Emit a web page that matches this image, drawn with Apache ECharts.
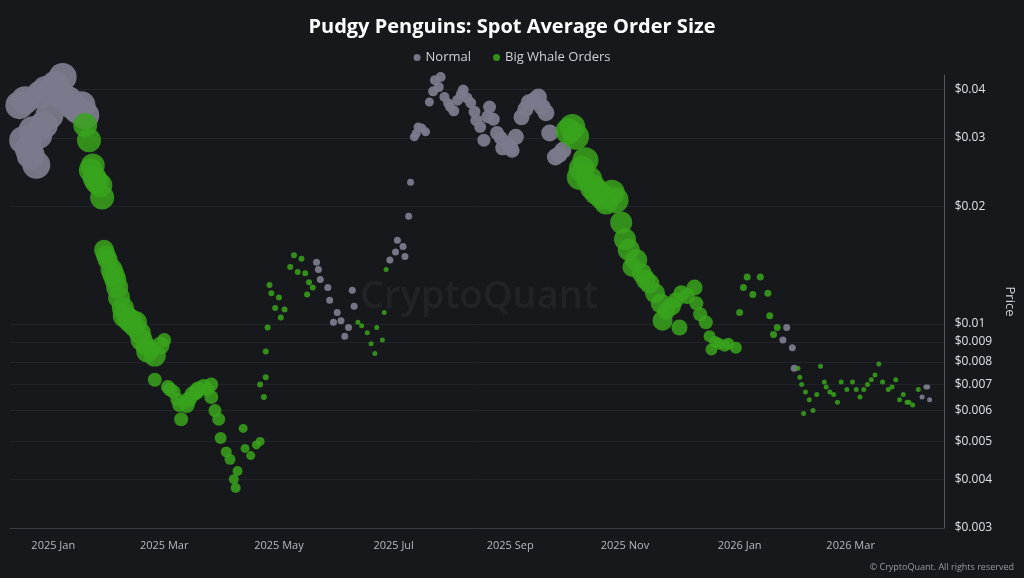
<!DOCTYPE html>
<html><head><meta charset="utf-8">
<script src="https://cdn.jsdelivr.net/npm/echarts@6/dist/echarts.min.js"></script>
<style>html,body{margin:0;padding:0;background:#fff}#c{width:1024px;height:578px}</style>
</head><body><div id="c"></div>
<script>
// Normal (gray) points: date, price, bubble size
const normalDates = ['2024-12-14','2024-12-17','2024-12-16','2024-12-19','2024-12-23','2024-12-21','2024-12-25','2024-12-28','2024-12-31','2025-01-02','2025-01-06','2025-01-05','2025-01-09','2025-01-11','2025-01-14','2025-01-16','2025-01-18','2024-12-30','2024-12-27','2024-12-24','2024-12-20',
 '2025-05-21','2025-05-22','2025-05-23','2025-05-27','2025-05-28','2025-06-01','2025-05-30','2025-06-03','2025-06-07','2025-06-05','2025-06-09','2025-06-10',
 '2025-06-29','2025-07-02','2025-07-03','2025-07-06','2025-07-07','2025-07-09','2025-07-10',
 '2025-07-12','2025-07-14','2025-07-18','2025-07-20','2025-07-23','2025-07-26','2025-07-28','2025-07-31','2025-08-04','2025-08-07','2025-08-11','2025-08-14','2025-08-18','2025-08-21','2025-08-25','2025-08-30','2025-08-28','2025-09-02','2025-09-04','2025-09-07','2025-09-11','2025-09-16','2025-09-20','2025-09-22','2025-09-25','2025-09-29',
 '2025-07-13','2025-07-16','2025-07-22','2025-07-25','2025-07-30','2025-08-02','2025-08-06','2025-08-09','2025-08-13','2025-08-16','2025-08-20','2025-08-23','2025-08-27','2025-09-01','2025-09-09','2025-09-14','2025-09-18','2025-09-27',
 '2026-01-26','2026-01-24','2026-01-29','2026-01-30',
 '2026-04-08','2026-04-10','2026-04-11','2026-04-12'];
const normalPrices = [0.0364,0.0375,0.0296,0.0281,0.0256,0.0314,0.0387,0.0398,0.0398,0.0410,0.0430,0.0387,0.0375,0.0364,0.0354,0.0364,0.0343,0.0343,0.0324,0.0305,0.0271,
 0.0144,0.0138,0.0130,0.0124,0.0115,0.0107,0.0101,0.0102,0.0098,0.0093,0.0122,0.0111,
 0.0146,0.0153,0.0164,0.0158,0.0149,0.0189,0.0231,
 0.0302,0.0320,0.0311,0.0371,0.0422,0.0430,0.0382,0.0360,0.0375,0.0398,0.0369,0.0333,0.0296,0.0360,0.0309,0.0291,0.0283,0.0279,0.0302,0.0339,0.0369,0.0382,0.0348,0.0309,0.0268,0.0279,
 0.0308,0.0318,0.0395,0.0405,0.0368,0.0352,0.0388,0.0380,0.0350,0.0320,0.0340,0.0335,0.0300,0.0285,0.0355,0.0375,0.0360,0.0272,
 0.0098,0.0091,0.0087,0.0077,
 0.0065,0.0069,0.0069,0.0064];
const normalSizes = [28,28,28,28,28,28,28,28,28,28,28,28,28,28,28,28,28,28,28,28,28,
 7,7,7,7,7,7,7,7,7,7,7,7,
 7,7,7,7,7,7,7,
 9,9,9,9,10,10,10,10,11,11,11,12,13,13,14,15,15,15,16,16,17,17,17,17,17,17,
 9,9,10,10,10,11,11,11,12,12,13,13,14,15,16,17,17,17,
 7,7,7,7,
 5,5,5,5];

// Big Whale Orders (green) points
const whaleDates = ['2025-01-18','2025-01-20','2025-01-21','2025-01-23','2025-01-26','2025-01-27','2025-01-22','2025-01-24',
 '2025-01-28','2025-01-30','2025-02-01','2025-02-03','2025-02-05','2025-02-08','2025-02-11','2025-02-14','2025-02-17','2025-02-20','2025-02-24','2025-02-27','2025-03-01',
 '2025-01-29','2025-02-02','2025-02-04','2025-02-07','2025-02-10','2025-02-13','2025-02-16','2025-02-19','2025-02-22',
 '2025-02-24','2025-03-03','2025-03-06','2025-03-08','2025-03-10','2025-03-13','2025-03-16','2025-03-19','2025-03-22','2025-03-26','2025-03-26','2025-03-28','2025-03-30','2025-03-31',
 '2025-03-04','2025-03-09','2025-03-14','2025-03-18','2025-03-24',
 '2025-04-03','2025-04-05','2025-04-07','2025-04-08','2025-04-09','2025-04-12','2025-04-13','2025-04-16','2025-04-19','2025-04-21',
 '2025-04-21','2025-04-23','2025-04-24','2025-04-24','2025-04-25','2025-04-26','2025-04-27','2025-04-29','2025-05-01','2025-05-02','2025-05-04','2025-05-07','2025-05-09','2025-05-11','2025-05-13','2025-05-15','2025-05-17','2025-05-19','2025-05-16',
 '2025-06-12','2025-06-14','2025-06-17','2025-06-19','2025-06-21','2025-06-22','2025-06-25','2025-06-26','2025-06-27',
 '2025-10-04','2025-10-06','2025-10-11','2025-10-08','2025-10-15','2025-10-20','2025-10-25','2025-10-27','2025-10-30','2025-11-03','2025-11-07','2025-11-10','2025-11-14','2025-11-17','2025-11-21','2025-11-20','2025-11-26','2025-11-30','2025-12-01','2025-12-08','2025-12-09','2025-12-14','2025-12-16','2025-12-21','2025-12-26','2025-12-30','2025-12-17',
 '2025-10-02','2025-10-09','2025-10-13','2025-10-17','2025-10-22','2025-11-01','2025-11-05','2025-11-12','2025-11-23','2025-11-28','2025-12-04','2025-12-11','2025-12-19','2025-12-24',
 '2026-01-01','2026-01-03','2026-01-05','2026-01-08','2026-01-12','2026-01-16','2026-01-17','2026-01-21','2026-01-19',
 '2026-02-01','2026-02-02','2026-02-05','2026-02-07','2026-02-04','2026-02-09','2026-02-13','2026-02-15','2026-02-18','2026-02-22','2026-02-24','2026-02-27','2026-03-02','2026-03-06','2026-03-10','2026-03-12','2026-03-16','2026-03-18','2026-03-21','2026-03-25','2026-03-27','2026-03-31','2026-04-03','2026-04-06',
 '2026-02-03','2026-02-11','2026-02-16','2026-02-20','2026-03-04','2026-03-08','2026-03-14','2026-03-23','2026-03-29','2026-04-01'];
const whalePrices = [0.0324,0.0296,0.0248,0.0237,0.0227,0.0211,0.0255,0.0232,
 0.0155,0.0146,0.0138,0.0130,0.0117,0.0105,0.0102,0.0101,0.0091,0.0085,0.0083,0.0088,0.0091,
 0.0150,0.0134,0.0124,0.0110,0.0103,0.0099,0.0095,0.0088,0.0086,
 0.0072,0.0069,0.0067,0.0064,0.0057,0.0062,0.0066,0.0068,0.0069,0.0070,0.0065,0.0060,0.0057,0.0051,
 0.0068,0.0062,0.0064,0.0067,0.0068,
 0.0047,0.0045,0.0040,0.0038,0.0042,0.0054,0.0048,0.0046,0.0049,0.0050,
 0.0070,0.0065,0.0073,0.0085,0.0098,0.0126,0.0120,0.0110,0.0117,0.0104,0.0109,0.0140,0.0150,0.0136,0.0147,0.0135,0.0128,0.0124,0.0119,
 0.0101,0.0099,0.0095,0.0089,0.0084,0.0098,0.0091,0.0107,0.0138,
 0.0320,0.0302,0.0263,0.0238,0.0224,0.0212,0.0217,0.0208,0.0182,0.0155,0.0146,0.0135,0.0127,0.0120,0.0102,0.0113,0.0111,0.0098,0.0120,0.0124,0.0113,0.0101,0.0093,0.0089,0.0089,0.0087,0.0086,
 0.0312,0.0250,0.0235,0.0218,0.0205,0.0165,0.0140,0.0130,0.0108,0.0115,0.0118,0.0106,0.0090,0.0088,
 0.0107,0.0124,0.0132,0.0119,0.0132,0.0120,0.0105,0.0098,0.0094,
 0.0077,0.0073,0.0067,0.0064,0.0059,0.0060,0.0078,0.0071,0.0067,0.0063,0.0071,0.0068,0.0071,0.0065,0.0070,0.0072,0.0079,0.0071,0.0068,0.0072,0.0064,0.0063,0.0062,0.0068,
 0.0070,0.0066,0.0069,0.0066,0.0068,0.0068,0.0074,0.0069,0.0066,0.0063];
const whaleSizes = [24,24,24,24,24,24,24,24,
 20,20,22,22,22,24,24,22,22,22,22,18,14,
 20,22,22,22,22,22,22,20,18,
 14,14,14,14,14,16,16,16,16,14,14,13,13,12,
 14,14,16,16,14,
 11,11,10,10,10,9,9,9,9,9,
 6,6,6,6,6,6,6,6,6,6,6,6,6,6,6,6,6,6,6,
 5,5,5,5,5,5,5,5,5,
 26,26,26,26,26,26,26,26,22,22,22,20,20,20,20,20,18,16,16,16,14,14,12,12,12,12,12,
 26,26,26,26,24,22,20,20,18,16,16,14,12,12,
 7,7,7,7,7,7,7,7,7,
 5,5,5,5,5,5,5,5,5,5,5,5,5,5,5,5,5,5,5,5,5,5,5,5,
 5,5,5,5,5,5,5,5,5,5];

const yTickValues = [0.003,0.004,0.005,0.006,0.007,0.008,0.009,0.01,0.02,0.03,0.04];
const xTickDates = ['2025-01-01','2025-03-01','2025-05-01','2025-07-01','2025-09-01','2025-11-01','2026-01-01','2026-03-01'];
const monthNames = ['Jan','Feb','Mar','Apr','May','Jun','Jul','Aug','Sep','Oct','Nov','Dec'];

const ts = d => Date.UTC(+d.slice(0,4), +d.slice(5,7) - 1, +d.slice(8,10));
const toData = (d, p, s) => d.map((x, i) => [ts(x), p[i], s[i]]);
const xTicks = xTickDates.map(ts);

const chart = echarts.init(document.getElementById('c'));
chart.setOption({
  backgroundColor: '#17181c',
  animation: false,
  title: { text: 'Pudgy Penguins: Spot Average Order Size', left: 'center', top: 12,
    textStyle: { color: '#ffffff', fontSize: 20, fontWeight: 'bold', fontFamily: 'Open Sans' } },
  legend: { top: 46, left: 'center', itemWidth: 7, itemHeight: 7, icon: 'circle', itemGap: 22,
    textStyle: { color: '#d0d0d8', fontSize: 13, fontFamily: 'Open Sans' },
    data: ['Normal', 'Big Whale Orders'] },
  grid: { left: 10, right: 77, top: 75, bottom: 50 },
  xAxis: {
    type: 'value', min: ts('2024-12-09'), max: ts('2026-04-20'),
    axisLine: { show: true, lineStyle: { color: '#3a3a42' } },
    axisTick: { show: false },
    splitLine: { show: false },
    axisLabel: { customValues: xTicks, color: '#b8b8c0', fontSize: 11, fontFamily: 'Open Sans', margin: 12,
      formatter: v => { const d = new Date(v); return d.getUTCFullYear() + ' ' + monthNames[d.getUTCMonth()]; } }
  },
  yAxis: {
    type: 'log', position: 'right', min: 0.003, max: 0.0435,
    name: 'Price', nameLocation: 'middle', nameGap: 56, nameRotate: -90,
    nameTextStyle: { color: '#d0d0d8', fontSize: 13, fontFamily: 'Open Sans' },
    axisLine: { show: true, lineStyle: { color: '#55555e' } },
    axisTick: { show: false, customValues: yTickValues },
    splitLine: { show: true, lineStyle: { color: '#222329' } },
    axisLabel: { customValues: yTickValues, color: '#e0e0e6', fontSize: 12, fontFamily: 'Open Sans', margin: 10,
      formatter: v => '$' + (+(+v).toPrecision(3)) }
  },
  graphic: [
    { type: 'text', left: 360, top: 278, z: 0, silent: true,
      style: { text: 'CryptoQuant', fill: 'rgba(255,255,255,0.05)', font: '600 38px "Open Sans"' } },
    { type: 'text', right: 10, bottom: 6,
      style: { text: '© CryptoQuant. All rights reserved', fill: '#9a9aa4', font: '9px "Open Sans"' } }
  ],
  series: [
    { name: 'Normal', type: 'scatter', data: toData(normalDates, normalPrices, normalSizes),
      symbolSize: v => v[2], itemStyle: { color: '#7a7a8c', opacity: 0.95 }, z: 2 },
    { name: 'Big Whale Orders', type: 'scatter', data: toData(whaleDates, whalePrices, whaleSizes),
      symbolSize: v => v[2], itemStyle: { color: '#38a31c', opacity: 0.85 }, z: 3 }
  ]
});
</script></body></html>
